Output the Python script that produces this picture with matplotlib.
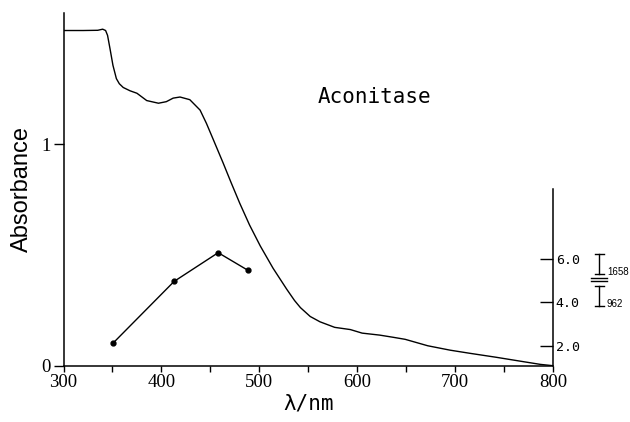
import numpy as np
import matplotlib
matplotlib.use("Agg")
import matplotlib.pyplot as plt

# absorption spectrum
wavelength = [300, 320, 335, 340, 343, 345, 347.5, 350.5, 354, 357, 361, 368,
              375, 385, 397, 405, 412, 419, 429, 439.5, 446, 453, 463, 471,
              480, 490, 501, 514, 528, 536, 542, 552, 562, 577, 593, 605,
              623, 637, 649, 672, 695, 715, 742, 770, 787, 800]
absorbance = [1.512, 1.512, 1.513, 1.518, 1.512, 1.49, 1.43, 1.355, 1.295,
              1.272, 1.255, 1.240, 1.229, 1.196, 1.184, 1.191, 1.207, 1.212,
              1.200, 1.153, 1.093, 1.020, 0.915, 0.828, 0.733, 0.635, 0.540,
              0.440, 0.345, 0.294, 0.262, 0.222, 0.198, 0.173, 0.163, 0.147,
              0.138, 0.128, 0.119, 0.090, 0.070, 0.056, 0.038, 0.018, 0.006,
              0.0]

# excitation profile (right axis)
laser_nm = [351, 413, 458, 488]
intensity = [2.15, 4.97, 6.29, 5.49]

right_ticks = [2.0, 4.0, 6.0]
right_labels = ["2.0", "4.0", "6.0"]
x_major = [300, 400, 500, 600, 700, 800]

# scale bars for the two bands: (label, top, bottom)
bars = [("1658", 6.23, 5.31), ("962", 4.76, 3.84)]

fig = plt.figure(figsize=(6.3, 4.22), dpi=100)
ax = fig.add_axes([0.1008, 0.1334, 0.7770, 0.8358])

ax.plot(wavelength, absorbance, color="black", lw=1.0)
ax.set_xlim(300, 800)
ax.set_ylim(0, 1.591)

for s in ["top", "right"]:
    ax.spines[s].set_visible(False)
for s in ["left", "bottom"]:
    ax.spines[s].set_linewidth(1.1)

ax.set_xticks(np.arange(300, 801, 50))
ax.set_xticklabels([str(v) if v in x_major else "" for v in range(300, 801, 50)],
                   family="Liberation Serif", fontsize=13.5)
ax.set_yticks([0, 1])
ax.set_yticklabels(["0", "1"], family="Liberation Serif", fontsize=13.5)
ax.tick_params(axis="x", direction="out", length=4, width=1, pad=2)
ax.tick_params(axis="y", direction="out", length=7, width=1, pad=2)

ax.set_ylabel("Absorbance", family="Liberation Sans", fontsize=17, labelpad=6)
ax.set_xlabel("λ/nm", family="DejaVu Sans Mono", fontsize=15, labelpad=2)

ax.text(560, 1.185, "Aconitase", family="DejaVu Sans Mono", fontsize=15,
        ha="left", va="baseline")

ax2 = ax.twinx()
ax2.set_ylim(1.094, 17.31)
ax2.plot(laser_nm, intensity, color="black", lw=1.0, marker="o", markersize=3.5)
for s in ["top", "left", "bottom"]:
    ax2.spines[s].set_visible(False)
ax2.spines["right"].set_linewidth(1.1)
ax2.spines["right"].set_bounds(1.094, 9.22)
ax2.set_yticks(right_ticks)
ax2.set_yticklabels(right_labels, family="DejaVu Sans Mono", fontsize=9.5)
ax2.tick_params(axis="y", direction="in", length=9.5, width=1, pad=2)

# intensity scale bars to the right of the plot
bx = 847
for label, top, bot in bars:
    ax2.plot([bx, bx], [bot, top], color="black", lw=1.0, clip_on=False)
    ax2.plot([bx - 4.6, bx + 4.6], [top, top], color="black", lw=1.0, clip_on=False)
    ax2.plot([bx - 4.6, bx + 4.6], [bot, bot], color="black", lw=1.0, clip_on=False)
    ax2.text(bx + 8, bot + 0.08, label, family="Liberation Sans", fontsize=7,
             ha="left", va="center", clip_on=False)
for yy in [5.14, 4.99]:
    ax2.plot([bx - 7.7, bx + 7.7], [yy, yy], color="black", lw=1.0, clip_on=False)

fig.savefig("out.png", dpi=100)
